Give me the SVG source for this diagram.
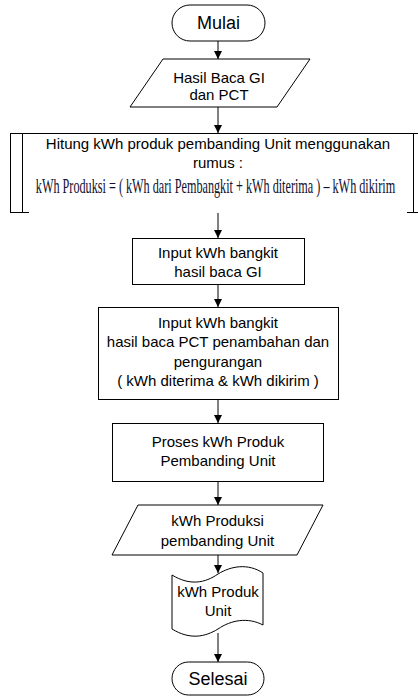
<svg xmlns="http://www.w3.org/2000/svg" width="418" height="698" viewBox="0 0 418 698">
  <defs>
    <marker id="arrow" viewBox="0 0 8 8" refX="8" refY="4" markerWidth="8" markerHeight="8" markerUnits="userSpaceOnUse" orient="auto">
      <path d="M0,0 L8,4 L0,8 Z" fill="#000"/>
    </marker>
    <style>
      .shape { fill: #fff; stroke: #000; stroke-width: 1; }
      .line { fill: none; stroke: #000; stroke-width: 1; }
      .edge { fill: none; stroke: #000; stroke-width: 1; marker-end: url(#arrow); }
      .label { font-family: "Liberation Sans", Arial, sans-serif; font-size: 15px; fill: #000; text-anchor: middle; }
      .term { font-size: 18px; }
      .formula { font-family: "Liberation Serif", "Times New Roman", serif; font-size: 20px; fill: #101030; text-anchor: middle; }
    </style>
  </defs>
  <rect width="418" height="698" fill="#fff"/>

  <!-- connectors -->
  <g id="connectors">
    <line class="edge" x1="218" y1="41" x2="218" y2="59"/>
    <line class="edge" x1="218" y1="107" x2="218" y2="133"/>
    <line class="edge" x1="218" y1="213" x2="218" y2="238"/>
    <line class="edge" x1="218" y1="284" x2="218" y2="307"/>
    <line class="edge" x1="218" y1="399" x2="218" y2="423"/>
    <line class="edge" x1="218" y1="481" x2="218" y2="505"/>
    <line class="edge" x1="218" y1="555" x2="218" y2="573"/>
    <line class="edge" x1="218" y1="633" x2="218" y2="662"/>
  </g>

  <!-- start terminator -->
  <g id="mulai">
    <rect class="shape" x="172" y="5" width="93" height="36" rx="18" ry="18"/>
    <text class="label term" x="218.5" y="29">Mulai</text>
  </g>

  <!-- input data -->
  <g id="hasil-baca">
    <polygon class="shape" points="163,59 310,59 277,107 130,107"/>
    <text class="label" x="219" y="83">Hasil Baca GI</text>
    <text class="label" x="219" y="100">dan PCT</text>
  </g>

  <!-- predefined process with formula -->
  <g id="hitung">
    <rect x="10" y="133" width="416" height="80" fill="#fff"/>
    <line class="line" x1="10" y1="133.5" x2="418" y2="133.5"/>
    <line class="line" x1="10.5" y1="133" x2="10.5" y2="213"/>
    <line class="line" x1="22.5" y1="133" x2="22.5" y2="213"/>
    <line class="line" x1="413.5" y1="133" x2="413.5" y2="213"/>
    <line class="line" x1="10" y1="212.5" x2="29" y2="212.5"/>
    <line class="line" x1="407" y1="212.5" x2="418" y2="212.5"/>
    <text class="label" x="218" y="149">Hitung kWh produk pembanding Unit menggunakan</text>
    <text class="label" x="218" y="168">rumus :</text>
    <text class="formula" transform="translate(215.5,193) scale(0.61,1)" x="0" y="0">kWh Produksi = ( kWh dari Pembangkit + kWh diterima ) – kWh dikirim</text>
  </g>

  <!-- input GI -->
  <g id="input-gi">
    <rect class="shape" x="132.5" y="238.5" width="172" height="46"/>
    <text class="label" x="218" y="258">Input kWh bangkit</text>
    <text class="label" x="218" y="277">hasil baca GI</text>
  </g>

  <!-- input PCT -->
  <g id="input-pct">
    <rect class="shape" x="98.5" y="307.5" width="240" height="92"/>
    <text class="label" x="218" y="328">Input kWh bangkit</text>
    <text class="label" x="218" y="347">hasil baca PCT penambahan dan</text>
    <text class="label" x="218" y="367">pengurangan</text>
    <text class="label" x="218" y="386">( kWh diterima &amp; kWh dikirim )</text>
  </g>

  <!-- process -->
  <g id="proses">
    <rect class="shape" x="112.5" y="423.5" width="211" height="58"/>
    <text class="label" x="218" y="447">Proses kWh Produk</text>
    <text class="label" x="218" y="466">Pembanding Unit</text>
  </g>

  <!-- output data -->
  <g id="output">
    <polygon class="shape" points="138,505 323,505 297,555 112,555"/>
    <text class="label" x="217.5" y="526">kWh Produksi</text>
    <text class="label" x="217.5" y="546">pembanding Unit</text>
  </g>

  <!-- document -->
  <g id="dokumen">
    <path class="shape" d="M172,575 C190,586 205,583 218,574 C231,566 248,563 263,573 L263,625 C248,617 231,620 218,629 C205,637 190,640 172,629 Z"/>
    <text class="label" x="218" y="597">kWh Produk</text>
    <text class="label" x="218" y="616">Unit</text>
  </g>

  <!-- end terminator -->
  <g id="selesai">
    <rect class="shape" x="172" y="662" width="92" height="33" rx="16.5" ry="16.5"/>
    <text class="label term" x="218" y="685">Selesai</text>
  </g>
</svg>
